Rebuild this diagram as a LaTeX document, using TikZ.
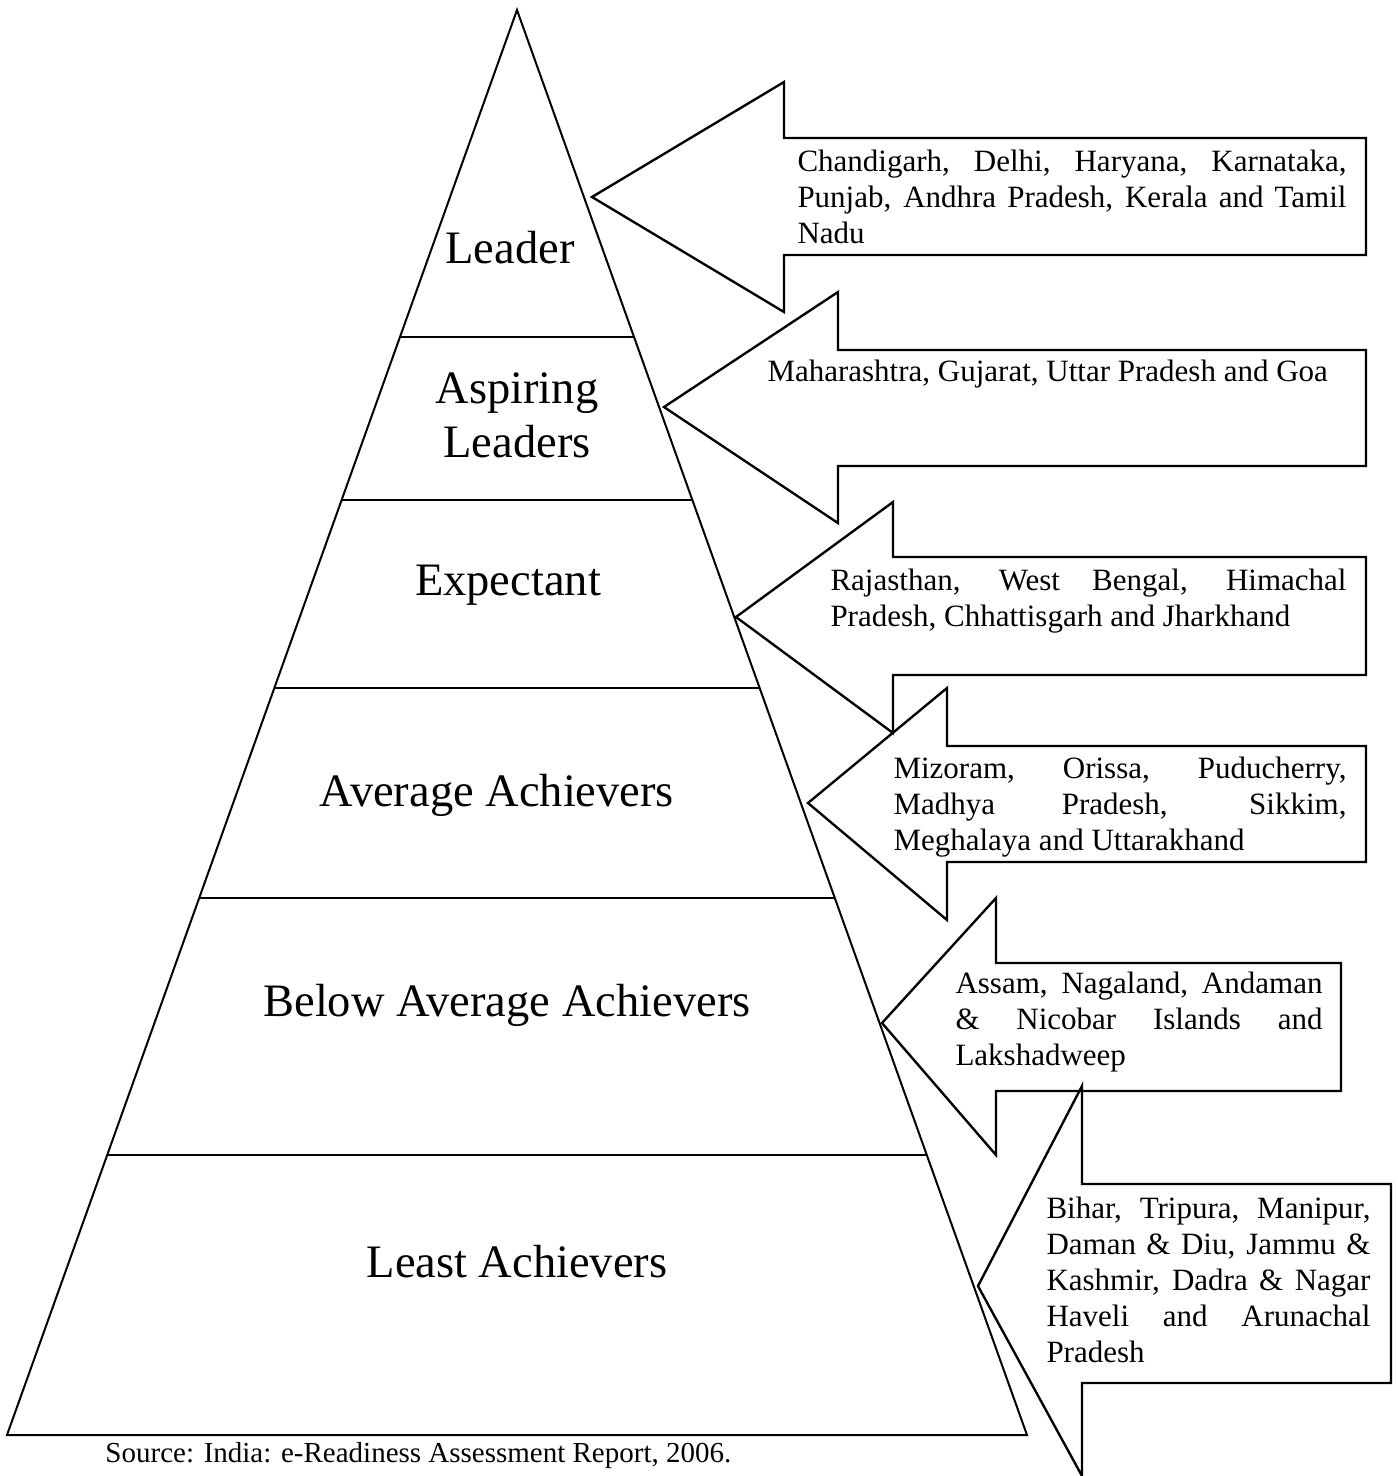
\documentclass[tikz,border=0pt]{standalone}
\usepackage{fontspec}
\setmainfont{Liberation Serif}
\begin{document}
\begin{tikzpicture}[x=0.4pt, y=-0.4pt,
        tier/.style={font=\fontsize{18.6}{21.6}\selectfont, align=center, inner sep=0pt},
        states/.style={font=\fontsize{12.4}{14.4}\selectfont, align=justify, inner sep=0pt, anchor=north west},
        outline/.style={draw, line width=0.8pt, line join=miter},
        callout/.style={draw, line width=0.95pt, line join=miter}
    ]
        \useasboundingbox (0,0) rectangle (1398,1476);

        % Pyramid
        \coordinate (apex) at (517,10);
        \coordinate (bl) at (7,1435);
        \coordinate (br) at (1027,1435);
        \draw[outline] (apex) -- (bl) -- (br) -- cycle;

        % Dividers between tiers
        \foreach \y [count=\i] in {337,500,688,898,1155} {
            \pgfmathsetmacro{\dx}{(\y-10)/1425*510}
            \coordinate (dl\i) at (517-\dx,\y);
            \coordinate (dr\i) at (517+\dx,\y);
            \draw[outline] (dl\i) -- (dr\i);
        }

        % Tier names
        \node[tier] (leader) at (510,248) {Leader};
        \node[tier] (aspiring) at (517,415) {Aspiring\\Leaders};
        \node[tier] (expectant) at (508,585) {Expectant};
        \node[tier] (average) at (497,795) {Average Achievers};
        \node[tier] (below) at (507,1005) {Below Average Achievers};
        \node[tier] (least) at (517,1262) {Least Achievers};

        % Block arrows: tip x/y, head x, head top/bottom, shaft top/bottom, right end
        \foreach \tx/\ty/\hx/\ht/\hb/\st/\sb/\rx in {
            592/197/784/82/312/138/255/1366,
            664/407/838/292/523/350/466/1366,
            736/617/893/502/733/557/675/1366,
            808/803/947/688/920/746/862/1366,
            882/1023/996/898/1155/963/1091/1341,
            978/1286/1082/1086/1476/1184/1383/1391} {
            \draw[callout] (\tx,\ty) -- (\hx,\ht) -- (\hx,\st) -- (\rx,\st)
                -- (\rx,\sb) -- (\hx,\sb) -- (\hx,\hb) -- cycle;
        }

        % States in each arrow
        \node[states, text width=219.6pt] (leaders) at (797,149)
            {Chandigarh, Delhi, Haryana, Karnataka,\linebreak Punjab, Andhra Pradesh, Kerala and Tamil\linebreak Nadu};
        \node[states, text width=240pt] (aspirers) at (767,359)
            {Maharashtra, Gujarat, Uttar Pradesh and Goa};
        \node[states, text width=206.4pt] (expectants) at (830,568)
            {Rajasthan, West Bengal, Himachal\linebreak Pradesh, Chhattisgarh and Jharkhand};
        \node[states, text width=181.2pt] (averages) at (893,756)
            {Mizoram, Orissa, Puducherry,\linebreak Madhya Pradesh, Sikkim,\linebreak Meghalaya and Uttarakhand};
        \node[states, text width=146.8pt] (belows) at (955,971)
            {Assam, Nagaland, Andaman\linebreak \& Nicobar Islands and\linebreak Lakshadweep};
        \node[states, text width=129.6pt] (leasts) at (1046,1196)
            {Bihar, Tripura, Manipur,\linebreak Daman \& Diu, Jammu \&\linebreak Kashmir, Dadra \& Nagar\linebreak Haveli and Arunachal\linebreak Pradesh};

        % Source
        \node[font=\fontsize{11.6}{14}\selectfont, anchor=base west, inner sep=0pt] (source) at (105,1462)
            {Source: India: e-Readiness Assessment Report, 2006.};
    \end{tikzpicture}
\end{document}
